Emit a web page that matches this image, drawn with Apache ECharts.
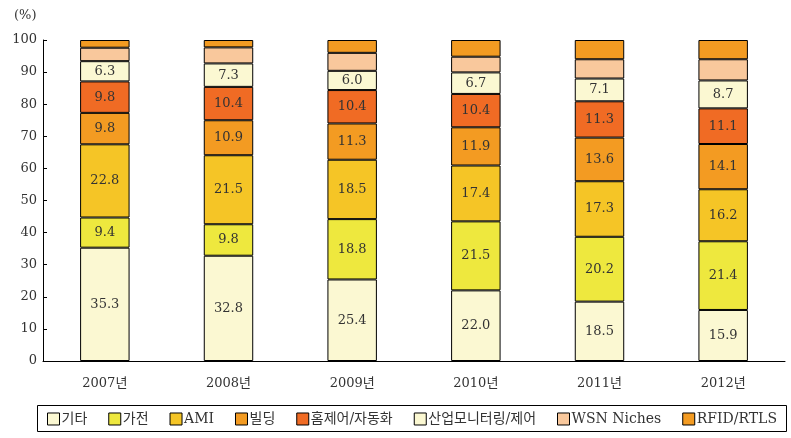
<!DOCTYPE html>
<html><head><meta charset="utf-8">
<script src="https://cdn.jsdelivr.net/npm/echarts@6/dist/echarts.min.js"></script>
<style>html,body{margin:0;padding:0;background:#fff}#c{width:791px;height:438px}</style>
</head><body><div id="c"></div>
<script>
const categories = ['2007년','2008년','2009년','2010년','2011년','2012년'];
const seriesNames = ['기타','가전','AMI','빌딩','홈제어/자동화','산업모니터링/제어','WSN Niches','RFID/RTLS'];
const etc      = [35.3, 32.8, 25.4, 22.0, 18.5, 15.9];
const appliance= [9.4, 9.8, 18.8, 21.5, 20.2, 21.4];
const ami      = [22.8, 21.5, 18.5, 17.4, 17.3, 16.2];
const building = [9.8, 10.9, 11.3, 11.9, 13.6, 14.1];
const homeCtrl = [9.8, 10.4, 10.4, 10.4, 11.3, 11.1];
const industry = [6.3, 7.3, 6.0, 6.7, 7.1, 8.7];
const wsn      = [4.2, 5.0, 5.6, 4.9, 6.0, 6.6];
const rfid     = [2.4, 2.3, 4.0, 5.2, 6.0, 6.0];
const yTicks = [0,10,20,30,40,50,60,70,80,90,100];

const values = [etc, appliance, ami, building, homeCtrl, industry, wsn, rfid];
const colors = ['#FBF8D2','#EEE83E','#F5C526','#F39B22','#F06B24','#FBF8D2','#F9C89C','#F39B22'];
const showLabel = [true,true,true,true,true,true,false,false];
const FONT = '"DejaVu Serif","Noto Sans CJK KR",serif';

const chart = echarts.init(document.getElementById('c'), null, {renderer:'canvas'});
chart.setOption({
  animation:false,
  backgroundColor:'#fff',
  textStyle:{fontFamily:FONT},
  grid:{left:43, right:6, top:40, bottom:77, containLabel:false},
  graphic:[
    {type:'text', left:14, top:9, style:{text:'(%)', font:'13px '+FONT, fill:'#333'}},
    {type:'rect', shape:{x:37.5, y:405.5, width:749, height:26}, style:{fill:'none', stroke:'#000', lineWidth:1}, z:-1}
  ],
  legend:{
    left:47, top:412, padding:0,
    itemWidth:12, itemHeight:12, itemGap:21, icon:'rect',
    textStyle:{fontFamily:FONT, fontSize:14, color:'#333', padding:[0,0,0,-3]},
    itemStyle:{borderColor:'#000', borderWidth:1},
    data: seriesNames
  },
  xAxis:{
    type:'category', data:categories,
    axisLine:{lineStyle:{color:'#000', width:1}},
    axisTick:{inside:true, length:5, lineStyle:{color:'#000'}},
    axisLabel:{color:'#333', fontSize:13, margin:16, fontFamily:FONT}
  },
  yAxis:{
    type:'value', min:0, max:100, interval:10,
    axisLine:{show:true, lineStyle:{color:'#000', width:1}},
    axisTick:{show:true, inside:true, length:4, lineStyle:{color:'#000'}},
    splitLine:{show:false},
    axisLabel:{color:'#333', fontSize:13, margin:6, fontFamily:FONT,
      formatter:v=>yTicks.includes(v)?String(v):''}
  },
  series: seriesNames.map((n,i)=>({
    name:n, type:'bar', stack:'total', barWidth:'40%',
    data: values[i],
    itemStyle:{color:colors[i], borderColor:'#000', borderWidth:1},
    label:{show:showLabel[i], position:'inside', color:'#333', fontSize:13, fontFamily:FONT,
      formatter:p=>p.value.toFixed(1)}
  }))
});
</script></body></html>
